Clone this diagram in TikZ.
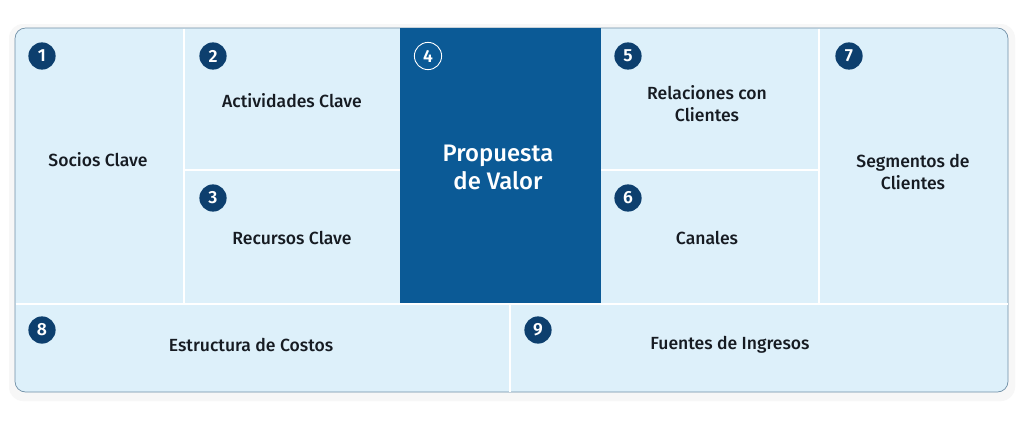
\documentclass[tikz,border=0pt]{standalone}
\usepackage{fontspec}
\setmainfont{Fira Sans}[UprightFont=* Medium, BoldFont=* SemiBold]
\usetikzlibrary{calc}
\definecolor{cellblue}{HTML}{DDF0FA}
\definecolor{valueblue}{HTML}{0B5A96}
\definecolor{numblue}{HTML}{0D3F6E}
\definecolor{edgeblue}{HTML}{6F8FA6}
\definecolor{txt}{HTML}{161B22}
\tikzset{
  numdot/.style={circle, fill=numblue, text=white, inner sep=0pt, minimum size=15.5pt, font=\fontsize{10}{10}\selectfont\bfseries},
  label/.style={text=txt, align=center, font=\fontsize{10}{12.5}\selectfont},
}
\begin{document}
\begin{tikzpicture}[x=0.02cm, y=-0.02cm]
\useasboundingbox (0,0) rectangle (1024,427);
% canvas
\fill[white] (0,0) rectangle (1024,427);
\fill[black!3, rounded corners=8] (9,24) rectangle (1015,401);
\draw[edgeblue, fill=cellblue, rounded corners=6] (15,28) rectangle (1008,392);
\fill[valueblue] (400,28) rectangle (601,304);
% dividers
\draw[white, line width=1.2pt] (184,28.5) -- (184,304);
\draw[white, line width=1.2pt] (819,28.5) -- (819,304);
\draw[white, line width=1.2pt] (15.5,304) -- (1007.5,304);
\draw[white, line width=1.2pt] (510,304) -- (510,391.5);
\draw[white, line width=1.2pt] (184,170) -- (400,170);
\draw[white, line width=1.2pt] (601,170) -- (819,170);
% numbers
\foreach \n/\x/\y in {1/42/56, 2/213/56, 3/213/198, 5/628/56, 6/628/198, 7/849/56, 8/42/330, 9/538/330} {
  \node[numdot] (n\n) at (\x,\y) {\n};
}
\node[numdot, fill=none, draw=white, line width=0.5pt] (n4) at (428,56) {4};
% block names
\node[label] (socios) at (98,160) {Socios Clave};
\node[label] (actividades) at (292,101) {Actividades Clave};
\node[label] (recursos) at (292,238) {Recursos Clave};
\node[label, text=white, font=\fontsize{13.6}{16}\selectfont] (valor) at (498,167) {Propuesta\\de Valor};
\node[label] (relaciones) at (707,104) {Relaciones con\\Clientes};
\node[label] (canales) at (707,238) {Canales};
\node[label] (segmentos) at (913,172) {Segmentos de\\Clientes};
\node[label] (costos) at (251,345) {Estructura de Costos};
\node[label] (ingresos) at (730,345) {Fuentes de Ingresos};
\end{tikzpicture}
\end{document}
